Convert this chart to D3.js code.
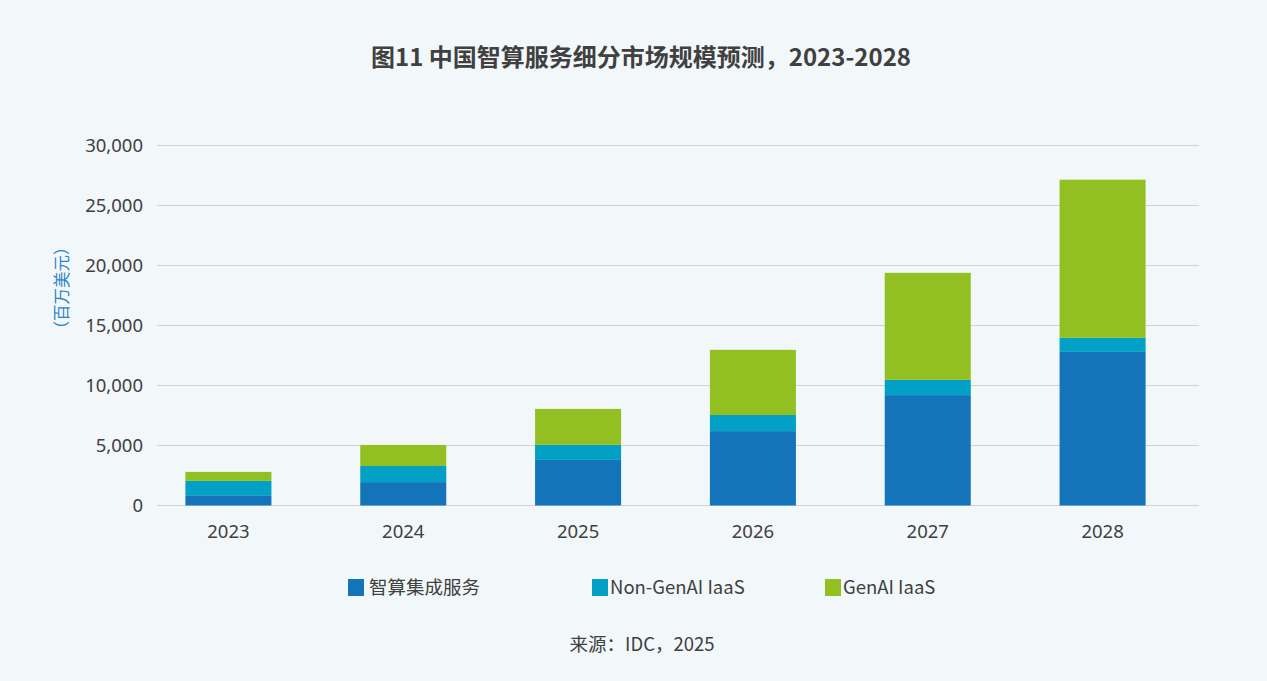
<!DOCTYPE html>
<html>
<head>
<meta charset="utf-8">
<script src="https://cdn.jsdelivr.net/npm/d3@7"></script>
<style>
  body { margin: 0; background: #f2f7fa; }
  text { font-family: "Noto Sans CJK SC", "Noto Sans", sans-serif; }
</style>
</head>
<body>
<div id="chart"></div>
<script>
// data (millions USD)
const years = ["2023", "2024", "2025", "2026", "2027", "2028"];
const integrated = [800, 1950, 3800, 6200, 9200, 12800];
const nonGenAI = [1250, 1340, 1250, 1340, 1270, 1170];
const genAI = [750, 1760, 3000, 5430, 8920, 13180];
const seriesNames = ["智算集成服务", "Non-GenAI IaaS", "GenAI IaaS"];
const colors = ["#1474b9", "#02a0c4", "#92c022"];
const yTicks = [0, 5000, 10000, 15000, 20000, 25000, 30000];

const W = 1267, H = 681;

const svg = d3.select("#chart").append("svg")
    .attr("width", W)
    .attr("height", H);

svg.append("rect").attr("width", W).attr("height", H).attr("fill", "#f2f7fa");

const rows = years.map((y, i) => ({year: y, a: integrated[i], b: nonGenAI[i], c: genAI[i]}));
const stack = d3.stack().keys(["a", "b", "c"])(rows);

const x = d3.scaleBand()
    .domain(years)
    .range([141, 1190])
    .paddingInner(0.508)
    .paddingOuter(0.254);

const y = d3.scaleLinear()
    .domain([0, 30000])
    .range([505.5, 145.5]);

// gridlines
svg.append("g")
  .selectAll("line")
  .data(yTicks)
  .enter()
  .append("line")
    .attr("x1", 157)
    .attr("x2", 1199)
    .attr("y1", d => y(d))
    .attr("y2", d => y(d))
    .attr("stroke", "#cdd3d8")
    .attr("stroke-width", 1.2);

// y axis labels
const yAxis = svg.append("g")
    .attr("transform", "translate(143,0)")
    .call(d3.axisLeft(y).tickValues(yTicks).tickSize(0).tickPadding(0).tickFormat(d3.format(",")));
yAxis.select(".domain").remove();
yAxis.selectAll("text")
    .attr("fill", "#404040")
    .attr("font-size", 18.5)
    .style("font-family", "'Noto Sans', sans-serif");

// bars
svg.append("g")
  .selectAll("g")
  .data(stack)
  .enter()
  .append("g")
    .attr("fill", (d, i) => colors[i])
  .selectAll("rect")
  .data(d => d)
  .enter()
  .append("rect")
    .attr("x", d => x(d.data.year))
    .attr("width", x.bandwidth())
    .attr("y", d => y(d[1]))
    .attr("height", d => y(d[0]) - y(d[1]));

// x axis labels
const xAxis = svg.append("g")
    .attr("transform", "translate(0,521)")
    .call(d3.axisBottom(x).tickSize(0).tickPadding(0));
xAxis.select(".domain").remove();
xAxis.selectAll("text")
    .attr("fill", "#404040")
    .attr("font-size", 18.5)
    .attr("dy", "0.9em")
    .style("font-family", "'Noto Sans', sans-serif");

// y title
svg.append("text")
    .attr("transform", "translate(61,288) rotate(-90)")
    .attr("text-anchor", "middle")
    .attr("dominant-baseline", "central")
    .attr("fill", "#2f84c6")
    .attr("font-size", 16.5)
    .text("（百万美元）");

// title
svg.append("text")
    .attr("x", 641)
    .attr("y", 66)
    .attr("text-anchor", "middle")
    .attr("fill", "#404040")
    .attr("font-size", 24)
    .attr("font-weight", "bold")
    .text("图11 中国智算服务细分市场规模预测，2023-2028");

// legend
const legendX = [348, 592, 825];
const legend = svg.append("g")
  .selectAll("g")
  .data(seriesNames)
  .enter()
  .append("g")
    .attr("transform", (d, i) => `translate(${legendX[i]},579)`);
legend.append("rect")
    .attr("width", 16)
    .attr("height", 17)
    .attr("fill", (d, i) => colors[i]);
legend.append("text")
    .attr("x", (d, i) => i === 0 ? 21 : 18)
    .attr("y", 15)
    .attr("fill", "#404040")
    .attr("font-size", 18.5)
    .text(d => d);

// source
svg.append("text")
    .attr("x", 642)
    .attr("y", 651)
    .attr("text-anchor", "middle")
    .attr("fill", "#404040")
    .attr("font-size", 18.5)
    .text("来源：IDC，2025");
</script>
</body>
</html>
